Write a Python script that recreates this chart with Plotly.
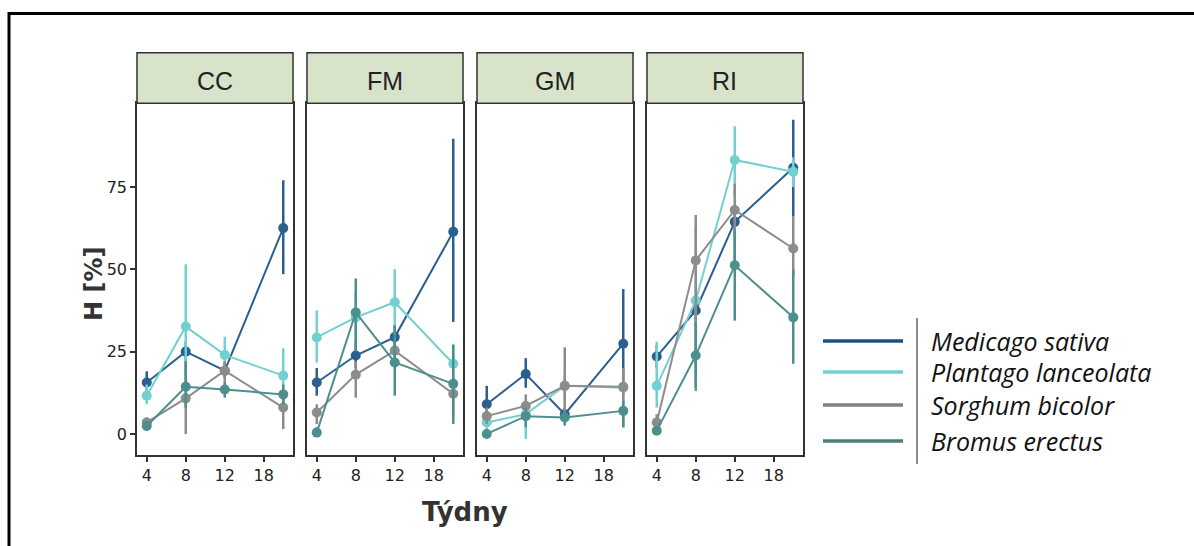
import plotly.graph_objects as go

W, H = 1194, 546

sites = ["CC", "FM", "GM", "RI"]
species = ["Medicago sativa", "Plantago lanceolata", "Sorghum bicolor", "Bromus erectus"]
colors = ["#2b5f8f", "#72d0d0", "#8c8c8c", "#4d8f8f"]
weeks = [4, 8, 12, 18]
tick_vals = [4, 8, 12, 16]
tick_text = ["4", "8", "12", "18"]
y_ticks = [0, 25, 50, 75]

# mean values [site][species]
mean_CC = [[15.6, 25.0, 19.2, 62.5], [11.6, 32.6, 24.0, 17.7], [3.5, 10.8, 19.2, 8.0], [2.4, 14.3, 13.5, 12.0]]
lo_CC = [[13, 22, 17, 48.5], [9, 18, 20, 13], [1.5, 0, 16, 1.5], [1, 8, 11, 9]]
hi_CC = [[19, 28, 22, 77], [15, 51.5, 29.5, 26], [5, 22, 22, 13], [4, 22, 16, 15]]

mean_FM = [[15.6, 23.8, 29.4, 61.4], [29.3, 35.4, 40.0, 21.3], [6.5, 18.0, 25.3, 12.2], [0.4, 36.9, 21.7, 15.2]]
lo_FM = [[11.6, 20, 26, 34], [21.7, 28, 30, 14], [3, 11, 21, 5], [0, 25, 11.6, 3]]
hi_FM = [[20, 28, 33, 89.6], [37.5, 43, 50, 27.4], [9, 22, 29, 17], [2, 47.2, 33, 27]]

mean_GM = [[9.0, 18.2, 6.0, 27.4], [3.5, 6.0, 14.6, 14.0], [5.4, 8.5, 14.6, 14.3], [0.0, 5.4, 5.0, 7.0]]
lo_GM = [[6, 14, 4, 12], [1, -1.5, 10, 9], [3, 4, 4, 2], [0, 2, 2.5, 2]]
hi_GM = [[14.6, 23, 8, 44], [6, 10, 18, 18], [8, 12, 26.3, 20], [1.5, 8, 7, 10]]

mean_RI = [[23.5, 37.5, 64.4, 80.8], [14.6, 40.5, 83.2, 79.6], [3.5, 52.7, 68.0, 56.3], [1.0, 23.8, 51.2, 35.4]]
lo_RI = [[20, 33, 60, 66], [8, 20, 72, 75], [1, 13, 50, 47.7], [0, 14, 34.4, 21.3]]
hi_RI = [[27, 42, 68, 95.4], [28, 63, 93.4, 84], [6, 66.5, 76, 66], [2.5, 34, 62, 50]]

means = [mean_CC, mean_FM, mean_GM, mean_RI]
los = [lo_CC, lo_FM, lo_GM, lo_RI]
his = [hi_CC, hi_FM, hi_GM, hi_RI]

# layout geometry (pixels)
panel_left = [137, 307, 477, 647]
panel_w = 156
panel_top, panel_bot = 103.3, 455
strip_top = 52.7

def px(x):
    return x / W

def py(y):
    return 1 - y / H

tick_font = dict(family="DejaVu Sans", size=16, color="#222")

fig = go.Figure()
layout_axes = {}
for i, site in enumerate(sites):
    xa = "x" if i == 0 else f"x{i+1}"
    ya = "y" if i == 0 else f"y{i+1}"
    for s, sp in enumerate(species):
        m = means[i][s]
        up = [h - v for h, v in zip(his[i][s], m)]
        dn = [v - l for v, l in zip(m, los[i][s])]
        fig.add_trace(go.Scatter(
            x=weeks, y=m, mode="lines+markers", name=sp, showlegend=False,
            line=dict(color=colors[s], width=2),
            marker=dict(color=colors[s], size=10, symbol="circle"),
            error_y=dict(type="data", array=up, arrayminus=dn, symmetric=False,
                         color=colors[s], thickness=2.5, width=0),
            xaxis=xa, yaxis=ya))
    key_x = "xaxis" if i == 0 else f"xaxis{i+1}"
    key_y = "yaxis" if i == 0 else f"yaxis{i+1}"
    layout_axes[key_x] = dict(
        domain=[px(panel_left[i]), px(panel_left[i] + panel_w)], anchor=ya,
        range=[3.0, 19.0], tickvals=tick_vals, ticktext=tick_text,
        ticks="outside", ticklen=5, tickwidth=1.5, tickcolor="#333",
        showline=True, linecolor="#333", linewidth=1.5, mirror=True,
        showgrid=False, zeroline=False, tickfont=tick_font)
    layout_axes[key_y] = dict(
        domain=[py(panel_bot), py(panel_top)], anchor=xa,
        range=[-6.4, 100.4], tickvals=y_ticks,
        ticks="outside" if i == 0 else "", ticklen=5, tickwidth=1.5, tickcolor="#333",
        showticklabels=(i == 0),
        showline=True, linecolor="#333", linewidth=1.5, mirror=True,
        showgrid=False, zeroline=False, tickfont=tick_font)

shapes = []
annotations = []
for i, site in enumerate(sites):
    shapes.append(dict(type="rect", xref="paper", yref="paper",
                       x0=px(panel_left[i]), x1=px(panel_left[i] + panel_w),
                       y0=py(panel_top), y1=py(strip_top),
                       fillcolor="#d7e4c9", line=dict(color="#333", width=1.5)))
    annotations.append(dict(xref="paper", yref="paper", x=px(panel_left[i] + panel_w / 2),
                            y=py((panel_top + strip_top) / 2 + 3), text=site, showarrow=False,
                            xanchor="center", yanchor="middle",
                            font=dict(family="Liberation Sans Narrow, Liberation Sans", size=25, color="#222")))

# outer frame lines
shapes.append(dict(type="line", xref="paper", yref="paper", x0=px(8), x1=px(W + 5), y0=py(13.5), y1=py(13.5),
                   line=dict(color="#000", width=3)))
shapes.append(dict(type="line", xref="paper", yref="paper", x0=px(9), x1=px(9), y0=py(12), y1=py(H + 5),
                   line=dict(color="#000", width=3)))

# axis titles
annotations.append(dict(xref="paper", yref="paper", x=px(465), y=py(512), text="<b>Týdny</b>", showarrow=False,
                        xanchor="center", yanchor="middle", font=dict(family="DejaVu Sans", size=26, color="#333")))
annotations.append(dict(xref="paper", yref="paper", x=px(94), y=py(284), text="<b>H [%]</b>", showarrow=False,
                        textangle=-90, xanchor="center", yanchor="middle",
                        font=dict(family="DejaVu Sans", size=24, color="#333")))

# manual legend
leg_y = [341, 372, 405, 441]
leg_colors = ["#1f4f80", "#6dd0d0", "#7f7f7f", "#4a7f7a"]
for s, sp in enumerate(species):
    shapes.append(dict(type="line", xref="paper", yref="paper", x0=px(823), x1=px(903),
                       y0=py(leg_y[s]), y1=py(leg_y[s]), line=dict(color=leg_colors[s], width=3.5)))
    annotations.append(dict(xref="paper", yref="paper", x=px(929), y=py(leg_y[s]), text=f"<i>{sp}</i>",
                            showarrow=False, xanchor="left", yanchor="middle",
                            font=dict(family="Open Sans", size=25, color="#111")))
shapes.append(dict(type="line", xref="paper", yref="paper", x0=px(917), x1=px(917), y0=py(318), y1=py(464),
                   line=dict(color="#666", width=1.5)))

fig.update_layout(width=W, height=H, margin=dict(l=0, r=0, t=0, b=0),
                  paper_bgcolor="white", plot_bgcolor="white", showlegend=False,
                  shapes=shapes, annotations=annotations, **layout_axes)

fig.write_html("out.html")
